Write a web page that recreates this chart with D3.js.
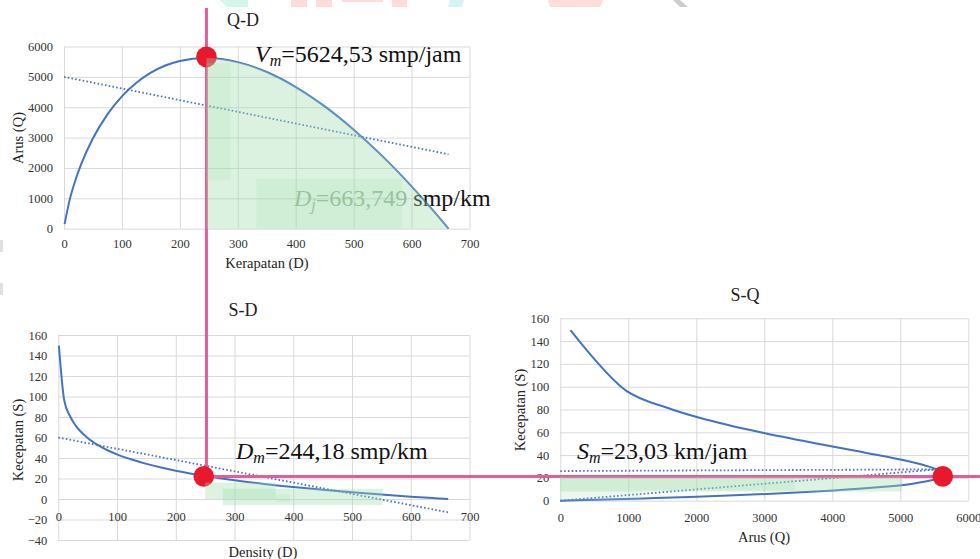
<!DOCTYPE html>
<html>
<head>
<meta charset="utf-8">
<script src="https://cdn.jsdelivr.net/npm/d3@7/dist/d3.min.js"></script>
<style>
  body { margin: 0; background: #fff; }
  svg { display: block; }
  text { font-family: "Liberation Serif", "Times New Roman", serif; }
</style>
</head>
<body>
<script>
// Greenberg model values
var density = [1, 10, 20, 30, 50, 75, 100, 125, 150, 175, 200, 244.18, 275, 300, 350, 400, 450, 500, 550, 600, 640, 663.749];
var speed   = [149.6, 96.6, 80.7, 71.3, 59.6, 50.2, 43.6, 38.5, 34.3, 30.7, 27.6, 23.03, 20.3, 18.3, 14.7, 11.7, 8.95, 6.5, 4.3, 2.3, 0.84, 0];
var flow    = [150, 966, 1613, 2140, 2978, 3766, 4359, 4806, 5137, 5373, 5525, 5624.53, 5580, 5486, 5159, 4665, 4028, 3262, 2381, 1394, 537, 0];

// dotted linear trend lines
var trendD    = [0, 663.7];
var qdTrendQ  = [5000, 2450];
var sdTrendS  = [60, -13];
var sqTrendQ  = [0, 5550];
var sqTrendS1 = [26, 27.5];
var sqTrendS2 = [0, 27.5];

// tick labels
var dTicks   = [0, 100, 200, 300, 400, 500, 600, 700];
var qTicks   = [0, 1000, 2000, 3000, 4000, 5000, 6000];
var sTicksSD = [-40, -20, 0, 20, 40, 60, 80, 100, 120, 140, 160];
var sTicksSQ = [0, 20, 40, 60, 80, 100, 120, 140, 160];

// critical values
var Dm = 244.18, Vm = 5624.53, Sm = 23.03, Dj = 663.749;

var blue = "#4472c4", pink = "#e35d9b", red = "#e8192c", grey = "#d9d9d9";

var svg = d3.select("body").append("svg").attr("width", 980).attr("height", 559);

// faint watermark remnants at the top edge
var wm = [
  {p: "220,0 248,0 248,7 227,7", c: "#d3f5ea"},
  {p: "291,0 307,0 307,7 291,7", c: "#ffdcdc"},
  {p: "316,0 332,0 332,7 316,7", c: "#ffdcdc"},
  {p: "342,0 383,0 383,2 342,2", c: "#ffdcdc"},
  {p: "392,0 407,0 407,7 392,7", c: "#ffdcdc"},
  {p: "450,0 464,0 462,7 448,7", c: "#d6f3fb"},
  {p: "548,0 603,0 600,7 550,7", c: "#ffdcdc"},
  {p: "673,0 680,0 688,7 680,7", c: "#cccccc"}
];
svg.selectAll(".wm").data(wm).enter().append("polygon")
  .attr("points", function(d) { return d.p; }).attr("fill", function(d) { return d.c; });
svg.append("rect").attr("x", 0).attr("y", 240).attr("width", 3).attr("height", 12).attr("fill", "#e0e0e0");
svg.append("rect").attr("x", 0).attr("y", 283).attr("width", 3).attr("height", 12).attr("fill", "#e0e0e0");

// scales
var x1 = d3.scaleLinear().domain([0, 700]).range([64, 469.5]);
var y1 = d3.scaleLinear().domain([0, 6000]).range([228.7, 46.5]);
var x2 = d3.scaleLinear().domain([0, 700]).range([58.3, 469.5]);
var y2 = d3.scaleLinear().domain([-40, 160]).range([540, 335]);
var x3 = d3.scaleLinear().domain([0, 6000]).range([560.3, 968.3]);
var y3 = d3.scaleLinear().domain([0, 160]).range([500.7, 318.3]);

var fmt = d3.format("d");

function panel(x, y, xt, yt, xLabelAt, xOff) {
  var g = svg.append("g");
  var w = x.range()[1] - x.range()[0];
  var top = y.range()[1], bot = y.range()[0];

  // gridlines
  var gx = g.append("g").attr("transform", "translate(0," + bot + ")")
    .call(d3.axisBottom(x).tickValues(xt).tickSize(-(bot - top)).tickFormat(""));
  var gy = g.append("g").attr("transform", "translate(" + x.range()[0] + ",0)")
    .call(d3.axisLeft(y).tickValues(yt).tickSize(-w).tickFormat(""));
  [gx, gy].forEach(function(a) {
    a.select(".domain").remove();
    a.selectAll("line").attr("stroke", grey).attr("stroke-width", 1);
  });

  // labels
  var lx = g.append("g").attr("transform", "translate(0," + (y(xLabelAt) + xOff) + ")")
    .call(d3.axisBottom(x).tickValues(xt).tickSize(0).tickPadding(0).tickFormat(fmt));
  var ly = g.append("g").attr("transform", "translate(" + (x.range()[0] - 11) + ",0)")
    .call(d3.axisLeft(y).tickValues(yt).tickSize(0).tickPadding(0).tickFormat(fmt));
  [lx, ly].forEach(function(a) {
    a.select(".domain").remove();
    a.selectAll("text").style("font-family", "'Liberation Serif', serif").attr("font-size", 12.5).attr("fill", "#333");
  });
  lx.selectAll("text").attr("dy", "0.35em");
  return g;
}

function title(txt, x, y, size, rot) {
  var t = svg.append("text").attr("text-anchor", "middle").attr("dominant-baseline", "central")
    .attr("font-size", size).attr("fill", "#222").text(txt);
  if (rot) t.attr("transform", "translate(" + x + "," + y + ") rotate(-90)");
  else t.attr("x", x).attr("y", y);
}

var idx = d3.range(density.length);
var idxUp = idx.filter(function(i) { return density[i] >= Dm; });

// ---------- Q-D ----------
var g1 = panel(x1, y1, dTicks, qTicks, 0, 14.5);
g1.append("path").datum(idx)
  .attr("d", d3.line().x(function(i) { return x1(density[i]); }).y(function(i) { return y1(flow[i]); }).curve(d3.curveMonotoneX))
  .attr("fill", "none").attr("stroke", blue).attr("stroke-width", 2);
g1.append("path").datum([0, 1])
  .attr("d", d3.line().x(function(i) { return x1(trendD[i]); }).y(function(i) { return y1(qdTrendQ[i]); }))
  .attr("stroke", blue).attr("stroke-width", 1.8).attr("stroke-dasharray", "1.6,2.2");
title("Q-D", 243, 20, 18);
title("Kerapatan (D)", 267, 263, 14.5);
title("Arus (Q)", 18, 138, 14.5, true);

// ---------- S-D ----------
var g2 = panel(x2, y2, dTicks, sTicksSD, 0, 17.5);
g2.append("path").datum(idx)
  .attr("d", d3.line().x(function(i) { return x2(density[i]); }).y(function(i) { return y2(speed[i]); }).curve(d3.curveMonotoneX))
  .attr("fill", "none").attr("stroke", blue).attr("stroke-width", 2);
g2.append("path").datum([0, 1])
  .attr("d", d3.line().x(function(i) { return x2(trendD[i]); }).y(function(i) { return y2(sdTrendS[i]); }))
  .attr("stroke", blue).attr("stroke-width", 1.8).attr("stroke-dasharray", "1.6,2.2");
title("S-D", 243, 310, 18);
title("Density (D)", 263, 551.5, 14.5);
title("Kecepatan (S)", 18, 440, 14.5, true);

// ---------- S-Q ----------
var g3 = panel(x3, y3, qTicks, sTicksSQ, 0, 16.5);
g3.append("path").datum(idx)
  .attr("d", d3.line().x(function(i) { return x3(flow[i]); }).y(function(i) { return y3(speed[i]); }).curve(d3.curveCatmullRom))
  .attr("fill", "none").attr("stroke", blue).attr("stroke-width", 2);
[sqTrendS1, sqTrendS2].forEach(function(s) {
  g3.append("path").datum([0, 1])
    .attr("d", d3.line().x(function(i) { return x3(sqTrendQ[i]); }).y(function(i) { return y3(s[i]); }))
    .attr("stroke", blue).attr("stroke-width", 1.8).attr("stroke-dasharray", "1.6,2.2");
});
title("S-Q", 745, 295, 18);
title("Arus (Q)", 764, 537, 14.5);
title("Kecepatan (S)", 520, 410, 14.5, true);

// ---------- guide lines and points ----------
var px = x1(Dm) + 1, py = y2(Sm) + 1;
svg.append("line").attr("x1", px).attr("x2", px).attr("y1", 8).attr("y2", py)
  .attr("stroke", pink).attr("stroke-width", 3);
svg.append("line").attr("x1", px).attr("x2", 980).attr("y1", py).attr("y2", py)
  .attr("stroke", pink).attr("stroke-width", 3);

var dots = [[x1(Dm) + 1, y1(Vm) - 1], [x2(Dm) + 2, py], [x3(Vm), py]];
svg.selectAll(".dot").data(dots).enter().append("circle")
  .attr("cx", function(d) { return d[0]; }).attr("cy", function(d) { return d[1]; })
  .attr("r", 10.3).attr("fill", red);

// ---------- annotations ----------
function note(x, y, main, sub, col) {
  var t = svg.append("text").attr("x", x).attr("y", y).attr("font-size", 24).attr("fill", "#111");
  t.append("tspan").attr("font-style", "italic").attr("fill", col || "#111").text(main);
  t.append("tspan").attr("font-style", "italic").attr("font-size", 16).attr("dy", 4).attr("fill", col || "#111").text(sub);
  return t;
}
var n1 = note(255, 62, "V", "m");
n1.append("tspan").attr("dy", -4).text("=5624,53 smp/jam");

var n2 = note(294, 206, "D", "j", "#93ad95");
n2.append("tspan").attr("dy", -4).attr("fill", "#93ad95").text("=663,749 ");
n2.append("tspan").text("smp/km");

var n3 = note(236, 459, "D", "m");
n3.append("tspan").attr("dy", -4).text("=244,18 smp/km");

var n4 = note(577, 459, "S", "m");
n4.append("tspan").attr("dy", -4).text("=23,03 km/jam");

// ---------- green highlighter strokes ----------
var hl = svg.append("g").attr("fill", "#9edcab");
hl.append("path").datum(idxUp)
  .attr("d", d3.area().x(function(i) { return x1(density[i]) + 1; }).y0(y1(0)).y1(function(i) { return y1(flow[i]); }).curve(d3.curveMonotoneX))
  .attr("fill-opacity", 0.36);
hl.append("rect").attr("x", x1(Dm) + 1).attr("y", y1(5450)).attr("width", x1(288) - x1(Dm) - 1).attr("height", y1(1600) - y1(5450))
  .attr("fill-opacity", 0.18);
hl.append("rect").attr("x", x1(332)).attr("y", y1(1650)).attr("width", x1(584) - x1(332)).attr("height", y1(0) - y1(1650))
  .attr("fill-opacity", 0.2);

hl.append("rect").attr("x", x2(250)).attr("y", y2(16)).attr("width", x2(370) - x2(250)).attr("height", y2(0) - y2(16))
  .attr("fill-opacity", 0.35);
hl.append("rect").attr("x", x2(280)).attr("y", y2(10)).attr("width", x2(552) - x2(280)).attr("height", y2(-6) - y2(10))
  .attr("fill-opacity", 0.35);
hl.append("rect").attr("x", x2(370)).attr("y", y2(5)).attr("width", x2(395) - x2(370)).attr("height", y2(-3) - y2(5))
  .attr("fill-opacity", 0.2);

hl.append("rect").attr("x", x3(0)).attr("y", y3(21)).attr("width", x3(5030) - x3(0)).attr("height", y3(8) - y3(21))
  .attr("fill-opacity", 0.35);
hl.append("rect").attr("x", x3(0)).attr("y", y3(20)).attr("width", x3(3450) - x3(0)).attr("height", y3(9) - y3(20))
  .attr("fill-opacity", 0.2);
hl.append("rect").attr("x", x3(0)).attr("y", y3(9)).attr("width", x3(1200) - x3(0)).attr("height", y3(0) - y3(9))
  .attr("fill-opacity", 0.2);
</script>
</body>
</html>
